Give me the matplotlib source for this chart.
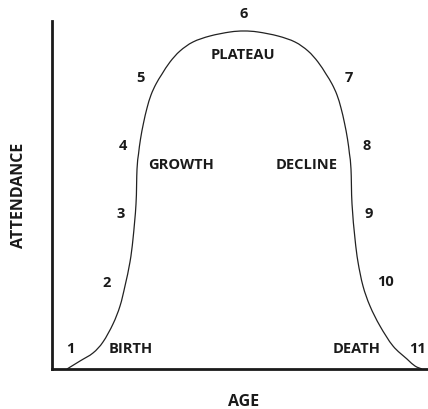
import matplotlib
matplotlib.use("Agg")
import matplotlib.pyplot as plt
import numpy as np
from matplotlib.path import Path
from matplotlib.patches import PathPatch

# Curve of church life cycle (age vs attendance)
age = [3.99, 7.45, 10.90, 13.56, 16.22, 18.09, 19.41, 20.74, 21.54, 22.34, 22.61,
       23.01, 23.54, 24.34, 25.27, 26.33, 27.66, 29.26, 31.38, 34.04, 37.50, 42.02, 47.34,
       51.06,
       54.79, 60.11, 64.63, 68.09, 70.74, 72.87, 74.47, 75.80, 76.86, 77.79, 78.59, 79.12,
       79.52, 79.79, 80.59, 81.38, 82.71, 84.57, 87.23, 90.69, 94.41, 96.54, 98.40]
attendance = [0.00, 2.30, 4.60, 7.76, 12.93, 18.10, 23.85, 30.75, 37.36, 47.41, 57.47,
              61.78, 66.09, 70.69, 75.00, 78.74, 81.90, 84.77, 88.22, 91.38, 93.97, 95.69,
              96.84, 97.13,
              96.84, 95.69, 93.97, 91.38, 88.22, 84.77, 81.90, 78.74, 75.00, 70.69, 66.09,
              61.78, 57.47, 47.41, 37.36, 30.75, 23.85, 18.10, 12.36, 6.61, 2.87, 0.86, 0.00]

# Numbered stage markers
num_labels = ["1", "2", "3", "4", "5", "6", "7", "8", "9", "10", "11"]
num_x = [4.8, 14.6, 18.4, 18.9, 23.4, 51.1, 79.0, 83.8, 84.3, 88.8, 97.3]
num_y = [6.0, 25.0, 44.8, 64.4, 83.9, 102.3, 83.9, 64.4, 44.8, 25.3, 6.0]

# Stage names
stage_labels = ["BIRTH", "GROWTH", "PLATEAU", "DECLINE", "DEATH"]
stage_x = [21.0, 34.3, 50.8, 67.8, 80.9]
stage_y = [6.0, 58.9, 90.5, 58.9, 6.0]

xlabel = "AGE"
ylabel = "ATTENDANCE"

W, H = 428, 410
fig = plt.figure(figsize=(W / 100, H / 100), dpi=100)
ax = fig.add_axes([52 / W, (H - 370) / H, (428 - 52) / W, 348 / H])
ax.set_xlim(0, 100)
ax.set_ylim(0, 100)

font = dict(family=["Open Sans", "DejaVu Sans"], fontweight="bold", color="#1a1a1a")

# Smooth rendering of the read points (Catmull-Rom through each point as cubic Bezier)
pts = np.column_stack([age, attendance])
verts = [tuple(pts[0])]
codes = [Path.MOVETO]
n = len(pts)
for i in range(n - 1):
    p0 = pts[i - 1] if i > 0 else pts[i]
    p1, p2 = pts[i], pts[i + 1]
    p3 = pts[i + 2] if i + 2 < n else pts[i + 1]
    c1 = p1 + (p2 - p0) / 6.0
    c2 = p2 - (p3 - p1) / 6.0
    verts += [tuple(c1), tuple(c2), tuple(p2)]
    codes += [Path.CURVE4] * 3
ax.add_patch(PathPatch(Path(verts, codes), fill=False, edgecolor="#222222", lw=0.9,
                       clip_on=False))

for t, x, y in zip(num_labels, num_x, num_y):
    ax.text(x, y, t, ha="center", va="center", fontsize=10.5, clip_on=False, **font)
for t, x, y in zip(stage_labels, stage_x, stage_y):
    ax.text(x, y, t, ha="center", va="center", fontsize=10.5, **font)

for s in ["top", "right"]:
    ax.spines[s].set_visible(False)
for s in ["left", "bottom"]:
    ax.spines[s].set_linewidth(2.0)
    ax.spines[s].set_color("#1a1a1a")
ax.set_xticks([])
ax.set_yticks([])

fig.text(244 / W, 1 - 402 / H, xlabel, ha="center", va="center", fontsize=11.5, **font)
fig.text(19 / W, 1 - 195 / H, ylabel, ha="center", va="center", rotation=90, fontsize=11.5, **font)

fig.savefig("out.png", dpi=100, facecolor="white")
